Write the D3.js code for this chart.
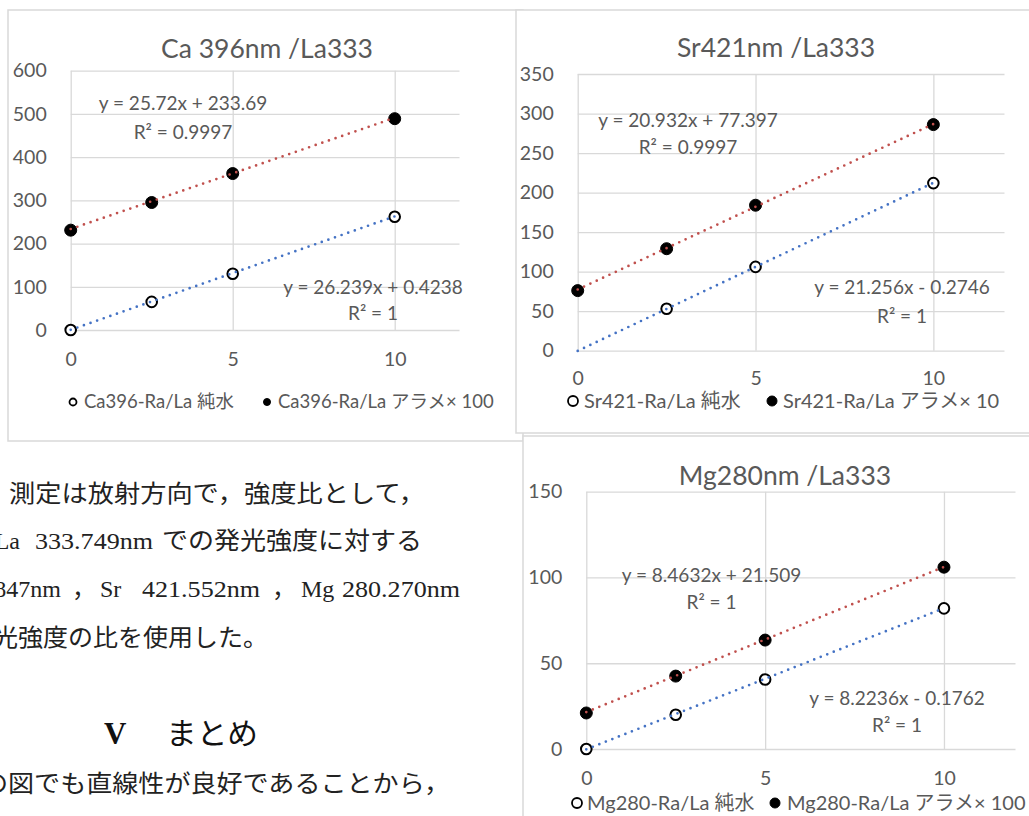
<!DOCTYPE html>
<html>
<head>
<meta charset="utf-8">
<script src="https://cdn.jsdelivr.net/npm/d3@7"></script>
<style>
  body { margin: 0; background: #fff; }
  svg { display: block; }
</style>
</head>
<body>
<svg id="page" width="1029" height="816"></svg>
<script>
// Standard-addition concentrations (x axis)
const concentrations = [0, 2.5, 5, 10];
const xTicks = [0, 5, 10];

// Ca 396nm / La333
const caPure = [0, 65, 130, 262];
const caArame = [231, 295, 362, 489];
const caTicks = [0, 100, 200, 300, 400, 500, 600];
const caPureFit = { slope: 26.239, intercept: 0.4238, r2: "1" };
const caArameFit = { slope: 25.72, intercept: 233.69, r2: "0.9997" };

// Sr421nm / La333
const srPure = [-0.3, 53, 106, 212];
const srArame = [76, 129, 184, 286];
const srTicks = [0, 50, 100, 150, 200, 250, 300, 350];
const srPureFit = { slope: 21.256, intercept: -0.2746, r2: "1" };
const srArameFit = { slope: 20.932, intercept: 77.397, r2: "0.9997" };

// Mg280nm / La333
const mgPure = [0, 20, 40.5, 82];
const mgArame = [21, 42.5, 63.5, 106];
const mgTicks = [0, 50, 100, 150];
const mgPureFit = { slope: 8.2236, intercept: -0.1762, r2: "1" };
const mgArameFit = { slope: 8.4632, intercept: 21.509, r2: "1" };

const svg = d3.select("#page");
const FONT = "Lato, 'Noto Sans CJK JP', sans-serif";
const GRAY = "#595959";
const GRID = "#d9d9d9";
const BLUE = "#4472c4";
const RED = "#c0504d";

function fitLabel(f) {
  const sign = f.intercept < 0 ? " - " : " + ";
  return "y = " + f.slope + "x" + sign + Math.abs(f.intercept);
}

function drawPanel(cfg) {
  const g = svg.append("g");
  const b = cfg.box;
  g.append("rect")
    .attr("x", b.x).attr("y", b.y).attr("width", b.w).attr("height", b.h)
    .attr("fill", "#fff").attr("stroke", GRID).attr("stroke-width", 1.5);

  const p = cfg.plot;
  const x = d3.scaleLinear().domain([0, 12]).range([p.left, p.right]);
  const y = d3.scaleLinear().domain([0, cfg.yTicks[cfg.yTicks.length - 1]]).range([p.bottom, p.top]);

  // value axis with horizontal gridlines
  const ya = g.append("g")
    .attr("transform", `translate(${p.left},0)`)
    .call(d3.axisLeft(y).tickValues(cfg.yTicks).tickSize(-(p.right - p.left)).tickPadding(24));
  // category axis with vertical gridlines
  const xa = g.append("g")
    .attr("transform", `translate(0,${p.bottom})`)
    .call(d3.axisBottom(x).tickValues(xTicks).tickSize(-(p.bottom - p.top)).tickPadding(cfg.xPad));
  [ya, xa].forEach(a => {
    a.select(".domain").remove();
    a.selectAll(".tick line").attr("stroke", GRID).attr("stroke-width", 1.3);
    a.selectAll(".tick text").attr("fill", GRAY).attr("font-family", FONT).attr("font-size", 19.5);
  });

  // title
  g.append("text")
    .attr("x", cfg.title.x).attr("y", cfg.title.y)
    .attr("text-anchor", "middle").attr("font-family", FONT)
    .attr("font-size", 26.5).attr("fill", GRAY)
    .text(cfg.title.text);

  const series = [
    { values: cfg.pure, fit: cfg.pureFit, color: BLUE, filled: false, lab: cfg.pureLab },
    { values: cfg.arame, fit: cfg.arameFit, color: RED, filled: true, lab: cfg.arameLab }
  ];

  series.forEach(s => {
    const pts = concentrations.map((c, i) => ({ c, v: s.values[i] }))
      .filter(d => d.v >= y.domain()[0]);
    g.append("g").selectAll("circle").data(pts).join("circle")
      .attr("cx", d => x(d.c)).attr("cy", d => y(d.v))
      .attr("r", s.filled ? 6 : 5.3)
      .attr("fill", s.filled ? "#000" : "#fff")
      .attr("stroke", "#000").attr("stroke-width", s.filled ? 1 : 2);
  });

  // linear trendlines drawn over the markers
  series.forEach(s => {
    const ends = [0, 10];
    g.append("path")
      .datum(ends)
      .attr("d", d3.line().x(d => x(d)).y(d => y(s.fit.slope * d + s.fit.intercept)))
      .attr("fill", "none").attr("stroke", s.color)
      .attr("stroke-width", 2.7).attr("stroke-linecap", "round")
      .attr("stroke-dasharray", "0 7");

    const t = g.append("text")
      .attr("text-anchor", "middle").attr("font-family", FONT)
      .attr("font-size", 19).attr("fill", GRAY);
    t.append("tspan").attr("x", s.lab.x).attr("y", s.lab.y).text(fitLabel(s.fit));
    t.append("tspan").attr("x", s.lab.x).attr("y", s.lab.y + s.lab.gap).text("R² = " + s.fit.r2);
  });

  // legend
  const L = cfg.legend;
  L.items.forEach((it, i) => {
    g.append("circle")
      .attr("cx", it.mx).attr("cy", L.y)
      .attr("r", L.r)
      .attr("fill", i === 0 ? "#fff" : "#000")
      .attr("stroke", "#000").attr("stroke-width", i === 0 ? 1.8 : 1);
    g.append("text")
      .attr("x", it.tx).attr("y", L.y + L.fs * 0.35)
      .attr("font-family", FONT).attr("font-size", L.fs).attr("fill", GRAY)
      .text(it.text);
  });
}

drawPanel({
  box: { x: 8, y: 10, w: 515, h: 431 },
  plot: { left: 70.7, right: 459.5, top: 70.7, bottom: 330 },
  yTicks: caTicks, xPad: 22,
  title: { text: "Ca 396nm /La333", x: 267, y: 57.5 },
  pure: caPure, arame: caArame,
  pureFit: caPureFit, arameFit: caArameFit,
  pureLab: { x: 373, y: 293.5, gap: 26 },
  arameLab: { x: 183, y: 109.5, gap: 29 },
  legend: { y: 402, r: 3.5, fs: 18.5, items: [
    { mx: 73, tx: 84, text: "Ca396-Ra/La 純水" },
    { mx: 267, tx: 278, text: "Ca396-Ra/La アラメ× 100" }
  ] }
});

drawPanel({
  box: { x: 516, y: 10, w: 530, h: 423 },
  plot: { left: 577.7, right: 1004.5, top: 74, bottom: 350.7 },
  yTicks: srTicks, xPad: 20.5,
  title: { text: "Sr421nm  /La333", x: 776, y: 57 },
  pure: srPure, arame: srArame,
  pureFit: srPureFit, arameFit: srArameFit,
  pureLab: { x: 902, y: 293.5, gap: 29 },
  arameLab: { x: 688, y: 126.5, gap: 27 },
  legend: { y: 401, r: 5, fs: 20, items: [
    { mx: 573, tx: 584, text: "Sr421-Ra/La 純水" },
    { mx: 772, tx: 783, text: "Sr421-Ra/La アラメ× 10" }
  ] }
});

drawPanel({
  box: { x: 523, y: 436, w: 520, h: 400 },
  plot: { left: 586.3, right: 1015.5, top: 491.7, bottom: 749 },
  yTicks: mgTicks, xPad: 22,
  title: { text: "Mg280nm /La333", x: 785, y: 484.5 },
  pure: mgPure, arame: mgArame,
  pureFit: mgPureFit, arameFit: mgArameFit,
  pureLab: { x: 897, y: 704.5, gap: 27 },
  arameLab: { x: 711.5, y: 581.5, gap: 27 },
  legend: { y: 803, r: 5, fs: 20, items: [
    { mx: 577, tx: 587, text: "Mg280-Ra/La 純水" },
    { mx: 775, tx: 787, text: "Mg280-Ra/La アラメ× 100" }
  ] }
});

// Body text of the page beside the charts
const SERIF = "'Liberation Serif', 'Noto Sans CJK JP', serif";
const bodyRuns = [
  { text: "測定は放射方向で，強度比として，", x: 9, y: 502, len: 416 },
  { text: "La", x: 20, y: 549, anchor: "end" },
  { text: "333.749nm", x: 35, y: 549, len: 118 },
  { text: "での発光強度に対する", x: 162, y: 549, len: 260 },
  { text: "396.847nm", x: 61, y: 597, anchor: "end" },
  { text: "，", x: 72, y: 597 },
  { text: "Sr", x: 100, y: 597 },
  { text: "421.552nm", x: 142, y: 597, len: 118 },
  { text: "，", x: 272, y: 597 },
  { text: "Mg", x: 301, y: 597 },
  { text: "280.270nm", x: 342, y: 597, len: 118 },
  { text: "光強度の比を使用した。", x: -7, y: 646, len: 275 },
  { text: "の図でも直線性が良好であることから，", x: -18, y: 792, len: 468 }
];
bodyRuns.forEach(r => {
  const t = svg.append("text")
    .attr("x", r.x).attr("y", r.y)
    .attr("font-family", SERIF).attr("font-size", 24).attr("fill", "#222")
    .attr("text-anchor", r.anchor || "start")
    .text(r.text);
  if (r.len) t.attr("textLength", r.len).attr("lengthAdjust", "spacingAndGlyphs");
});

svg.append("text")
  .attr("x", 104).attr("y", 744)
  .attr("font-family", SERIF).attr("font-size", 31).attr("font-weight", "bold").attr("fill", "#111")
  .text("V");
svg.append("text")
  .attr("x", 166).attr("y", 744)
  .attr("font-family", SERIF).attr("font-size", 30).attr("fill", "#111")
  .attr("textLength", 92).attr("lengthAdjust", "spacingAndGlyphs")
  .text("まとめ");
</script>
</body>
</html>
